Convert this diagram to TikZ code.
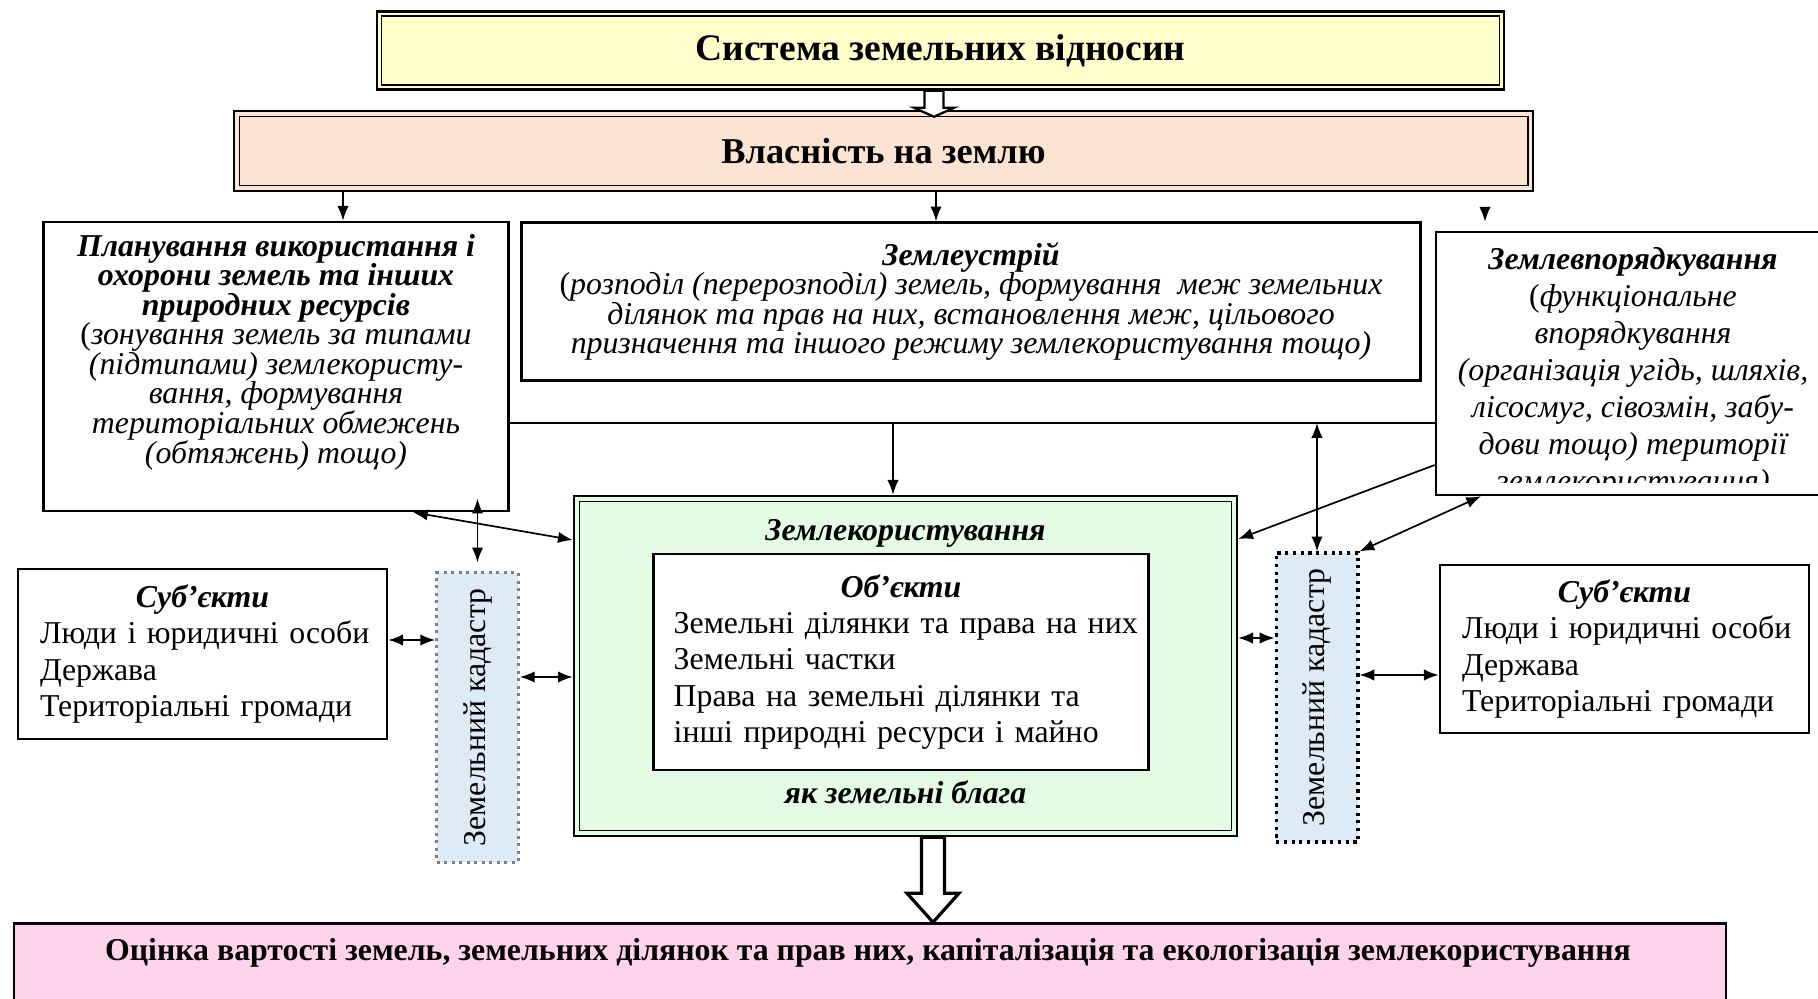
\documentclass[tikz,border=0pt]{standalone}
\usepackage{fontspec}
\setmainfont{Liberation Serif}
\usetikzlibrary{arrows.meta}
\definecolor{sysfill}{HTML}{FFFFCC}
\definecolor{ownfill}{HTML}{FCE4D2}
\definecolor{usefill}{HTML}{E3FCE3}
\definecolor{kadfill}{HTML}{DDEBF7}
\definecolor{evalfill}{HTML}{FFD4EA}

\begin{document}
\begin{tikzpicture}[x=0.44pt,y=-0.44pt,
    box/.style={draw,line width=1.1pt,fill=white,inner sep=0pt},
    kad/.style={fill=kadfill,minimum width=36pt,minimum height=127.2pt,inner sep=0pt,font={\fontsize{14}{16}\selectfont}},
    txt/.style={align=center,font={\fontsize{14}{13}\selectfont\itshape\lineskiplimit=-5pt}},
    lst/.style={align=left,font={\fontsize{14}{16}\selectfont}},
    head/.style={font={\fontsize{14}{16}\selectfont\bfseries\itshape}},
    arr/.style={-{Latex[length=6.5pt,width=5pt]},line width=0.75pt},
    dar/.style={{Latex[length=6.5pt,width=5pt]}-{Latex[length=6.5pt,width=5pt]},line width=0.75pt},
    hollow/.style={draw,fill=white,line width=1pt,line join=miter}]
  \useasboundingbox (0,0) rectangle (1818,999);

  % top boxes
  \node[box,fill=sysfill,minimum width=495.9pt,minimum height=34.3pt,font={\fontsize{16.5}{18}\selectfont\bfseries}] (sys) at (940.5,50.5) {Система земельних відносин};
  \draw[line width=0.5pt] ([shift={(2.5pt,-2.5pt)}]sys.north west) rectangle ([shift={(-2.5pt,2.5pt)}]sys.south east);
  \node[box,fill=ownfill,minimum width=571.6pt,minimum height=35.2pt,font={\fontsize{16}{18}\selectfont\bfseries}] (own) at (883.5,151) {Власність на землю};
  \draw[line width=0.5pt] ([shift={(2.8pt,-2.8pt)}]own.north west) rectangle ([shift={(-2.8pt,2.8pt)}]own.south east);

  % second row
  \node[box,minimum width=204.6pt,minimum height=127.2pt] (plan) at (276,366.5) {};
  \node[txt] (plantxt) at (276,352) {\textbf{Планування використання і}\\ \textbf{охорони земель та інших}\\ \textbf{природних ресурсів}\\ {\upshape(}зонування земель за типами\\ (підтипами) землекористу-\\вання, формування\\ територіальних обмежень\\ (обтяжень) тощо)};
  \node[box,txt,minimum width=395.6pt,minimum height=69.5pt] (ustr) at (971,301.5) {\textbf{Землеустрій}\\ {\upshape(}розподіл (перерозподіл) земель, формування\ \ меж земельних\\ ділянок та прав на них, встановлення меж, цільового\\ призначення та іншого режиму землекористування тощо)};
  \node[box,minimum width=173.4pt,minimum height=115.7pt] (vpor) at (1633,363.5) {};
  \begin{scope}
    \clip (1436,232) rectangle (1818,482);
    \node[txt,font={\fontsize{14}{16.3}\selectfont\itshape}] (vportxt) at (1633,373) {\textbf{Землевпорядкування}\\ {\upshape(}функціональне\\ впорядкування\\ (організація угідь, шляхів,\\ лісосмуг, сівозмін, забу-\\дови тощо) території\\ землекористування)};
  \end{scope}

  % land use
  \node[box,fill=usefill,minimum width=291.7pt,minimum height=149.6pt] (use) at (905.5,666) {};
  \draw[line width=0.6pt] ([shift={(3pt,-3pt)}]use.north west) rectangle ([shift={(-3pt,3pt)}]use.south east);
  \node[head] (usetitle) at (905.5,533) {Землекористування};
  \node[box,lst,minimum width=217.8pt,minimum height=95pt,text width=200pt] (obj) at (901,662) {{\centering\bfseries\itshape Об’єкти\par}\noindent\mbox{Земельні ділянки та права на них}\\\mbox{Земельні частки}\\\mbox{Права на земельні ділянки та}\\\mbox{інші природні ресурси і майно}};
  \node[head] (usefoot) at (905.5,792) {як земельні блага};

  % cadastre and subjects
  \node[kad,draw=gray,dotted,line width=1.3pt] (kadL) at (477.5,717.5) {\rotatebox{90}{Земельний кадастр}};
  \node[kad,draw,dotted,line width=1.4pt] (kadR) at (1317,697.5) {\rotatebox{90}{Земельний кадастр}};
  \node[box,lst,minimum width=162.4pt,minimum height=74.8pt,text width=143pt] (subL) at (202.5,654) {{\centering\bfseries\itshape Суб’єкти\par}\noindent\mbox{Люди і юридичні особи}\\\mbox{Держава}\\\mbox{Територіальні громади}};
  \node[box,lst,minimum width=162.4pt,minimum height=73.9pt,text width=143pt] (subR) at (1624.5,649) {{\centering\bfseries\itshape Суб’єкти\par}\noindent\mbox{Люди і юридичні особи}\\\mbox{Держава}\\\mbox{Територіальні громади}};

  % bottom
  \node[box,fill=evalfill,minimum width=753.3pt,minimum height=60pt,anchor=north] (eval) at (870,922) {};
  \node[font={\fontsize{14}{16}\selectfont\bfseries}] (evaltxt) at (868,953) {Оцінка вартості земель, земельних ділянок та прав них, капіталізація та екологізація землекористування};

  % hollow arrows
  \coordinate (h1) at (sys.south -| 934,0);
  \draw[hollow] (h1) ++(-9.5,0) -- ++(0,17) -- ++(-10.5,0) -- ++(20,9) -- ++(20,-9) -- ++(-10.5,0) -- ++(0,-17) -- cycle;
  \coordinate (h2) at (use.south -| 933,0);
  \draw[hollow,line width=1.4pt] (h2) ++(-11.5,0) -- ++(0,56) -- ++(-14.5,0) -- ++(26,29) -- ++(26,-29) -- ++(-14.5,0) -- ++(0,-56) -- cycle;

  % connectors
  \draw[arr] (own.south -| 343,0) -- (plan.north -| 343,0);
  \draw[arr] (own.south -| 936,0) -- (ustr.north -| 936,0);
  \coordinate (vp) at (1485,207);
  \draw[arr,shorten >=4pt] (vp) -- (vp |- vpor.north);
  \draw[line width=0.75pt] (plan.east |- 0,423) -- (vpor.west |- 0,423);
  \coordinate (hub) at (893,423);
  \draw[arr] (hub) -- (hub |- use.north);
  \draw[dar] (kadR.north |- hub) -- (kadR.north);
  \draw[dar] (plan.south -| 413,0) -- (use.west |- 0,540);
  \draw[dar] ([yshift=6pt]kadL.north |- plan.south) -- ([yshift=4pt]kadL.north);
  \draw[dar] (subL.east |- 0,640) -- (kadL.west |- 0,640);
  \draw[dar] (kadL.east |- 0,677) -- (use.west |- 0,677);
  \draw[dar] (use.east |- 0,638) -- (kadR.west |- 0,638);
  \draw[dar] (kadR.east |- 0,675) -- (subR.west |- 0,675);
  \draw[arr] (vpor.west |- 0,465) -- (use.east |- 0,539);
  \draw[dar] (vpor.south -| 1481,0) -- (kadR.north east);
\end{tikzpicture}
\end{document}
